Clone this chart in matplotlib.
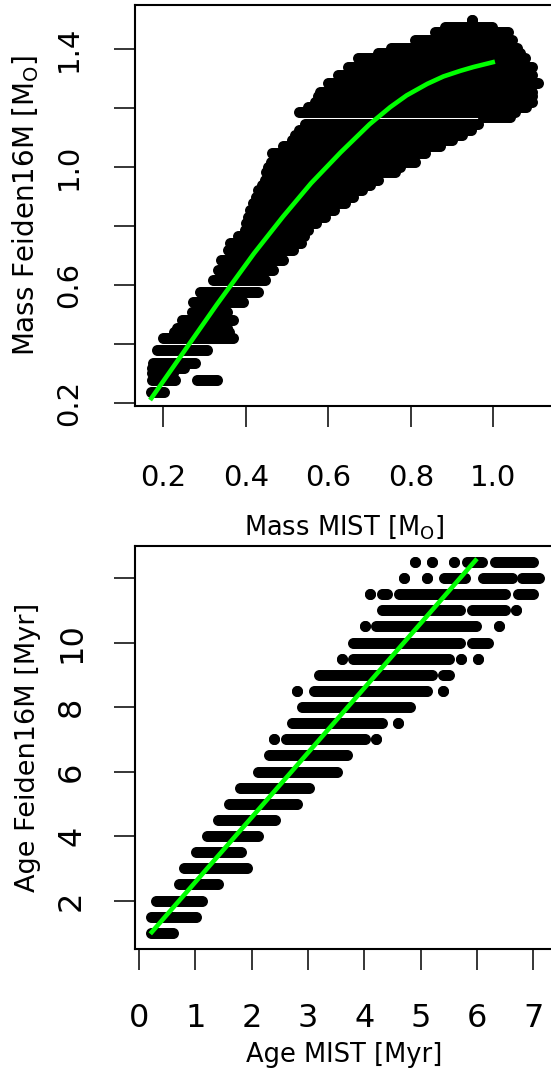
import matplotlib
matplotlib.use("Agg")
import matplotlib.pyplot as plt

plt.rcParams['font.family'] = ['DejaVu Sans']
plt.rcParams['mathtext.fontset'] = 'dejavusans'

# ---------------- data: top panel (mass) ----------------
# each entry: a row of overlapping points at Feiden mass y, from MIST mass x0 to x1
mass_row_y = [0.239, 0.279, 0.279, 0.302, 0.320, 0.338, 0.380, 0.420,
              0.440, 0.454, 0.482, 0.510, 0.544, 0.578, 0.618, 0.651, 0.685,
              0.719, 0.744, 0.765, 0.787, 0.810, 0.832, 0.855, 0.877, 0.900, 0.922,
              0.940, 0.956, 0.984, 1.001, 1.018, 1.047, 1.070, 1.092, 1.110, 1.125,
              1.145, 1.168, 1.187, 1.205, 1.222, 1.240, 1.256, 1.284, 1.312, 1.340,
              1.368, 1.385, 1.402, 1.430, 1.458, 1.475, 1.498]
mass_seg_start = [0.169, 0.172, 0.282, 0.172, 0.172, 0.174, 0.185, 0.200,
                  0.225, 0.234, 0.245, 0.269, 0.273, 0.289, 0.320, 0.333, 0.341,
                  0.358, 0.362, 0.380, 0.398, 0.400, 0.406, 0.410, 0.418, 0.425, 0.430,
                  0.440, 0.446, 0.450, 0.455, 0.460, 0.463, 0.490, 0.511, 0.520, 0.530,
                  0.543, 0.975, 0.530, 0.550, 0.568, 0.575, 0.580, 0.600, 0.624, 0.648,
                  0.672, 0.720, 0.752, 0.810, 0.859, 0.883, 0.948]
mass_seg_end = [0.202, 0.228, 0.331, 0.224, 0.250, 0.277, 0.305, 0.368,
                0.360, 0.354, 0.370, 0.354, 0.394, 0.429, 0.447, 0.467, 0.491,
                0.515, 0.535, 0.540, 0.551, 0.570, 0.592, 0.615, 0.640, 0.660, 0.681,
                0.700, 0.720, 0.762, 0.775, 0.810, 0.835, 0.870, 0.900, 0.923, 0.945,
                0.963, 1.040, 1.053, 1.080, 1.093, 1.095, 1.095, 1.108, 1.095, 1.093,
                1.077, 1.065, 1.057, 1.045, 1.036, 0.996, 0.948]

# smooth relation drawn in green
mass_fit_x = [0.168, 0.25, 0.33, 0.42, 0.49, 0.558, 0.63, 0.70, 0.75, 0.79,
              0.84, 0.879, 0.92, 0.952, 1.004]
mass_fit_y = [0.211, 0.375, 0.535, 0.708, 0.832, 0.945, 1.050, 1.145, 1.203, 1.243,
              1.282, 1.307, 1.326, 1.339, 1.357]

mass_xticks = [0.2, 0.4, 0.6, 0.8, 1.0]
mass_xticklabels = ['0.2', '0.4', '0.6', '0.8', '1.0']
mass_yticks = [0.2, 0.4, 0.6, 0.8, 1.0, 1.2, 1.4]
mass_yticklabels = ['0.2', '', '0.6', '', '1.0', '', '1.4']

# ---------------- data: bottom panel (age) ----------------
age_row_y = [12.5, 12.5, 12.5, 12.5, 12.5,
             12.0, 12.0, 12.0, 12.0, 12.0,
             11.5, 11.5, 11.5, 11.5,
             11.0, 11.0, 11.0,
             10.5, 10.5, 10.5,
             10.0, 10.0,
             9.5, 9.5, 9.5, 9.5,
             9.0, 9.0,
             8.5, 8.5, 8.5,
             8.0,
             7.5, 7.5,
             7.0, 7.0, 7.0,
             6.5, 6.0, 5.5, 5.0, 4.5, 4.0, 3.5, 3.0, 2.5, 2.0, 1.5, 1.0]
age_seg_start = [4.90, 5.21, 5.59, 5.82, 6.32,
                 4.70, 5.11, 5.42, 6.11, 6.80,
                 4.10, 4.31, 4.62, 6.72,
                 4.31, 5.92, 6.70,
                 4.01, 4.20, 6.40,
                 3.80, 5.92,
                 3.61, 3.80, 5.71, 6.01,
                 3.20, 5.40,
                 2.81, 3.11, 5.40,
                 2.90,
                 2.71, 4.60,
                 2.40, 2.61, 4.21,
                 2.31, 2.11, 1.80, 1.60, 1.41, 1.20, 1.01, 0.80, 0.71, 0.30, 0.21, 0.21]
age_seg_end = [4.90, 5.21, 5.59, 6.09, 7.00,
               4.70, 5.11, 5.79, 6.62, 7.10,
               4.10, 4.40, 6.50, 7.00,
               5.70, 6.50, 6.70,
               4.01, 5.99, 6.40,
               5.70, 6.20,
               3.61, 5.50, 5.71, 6.01,
               5.20, 5.50,
               2.81, 5.11, 5.40,
               4.81,
               4.31, 4.60,
               2.40, 4.01, 4.21,
               3.70, 3.51, 3.01, 2.81, 2.41, 2.11, 1.81, 1.91, 1.41, 1.11, 1.01, 0.61]

age_fit_x = [0.2, 6.0]
age_fit_y = [0.97, 12.6]

age_xticks = [0, 1, 2, 3, 4, 5, 6, 7]
age_xticklabels = ['0', '1', '2', '3', '4', '5', '6', '7']
age_yticks = [2, 4, 6, 8, 10, 12]
age_yticklabels = ['2', '4', '6', '8', '10', '']

# ---------------- figure ----------------
W, H = 551, 1075
fig = plt.figure(figsize=(W / 100, H / 100), dpi=100)

def px_axes(left, top, right, bottom):
    return fig.add_axes([left / W, 1 - bottom / H, (right - left) / W, (bottom - top) / H])

ax1 = px_axes(135, 5, 553, 406)
ax2 = px_axes(135, 546, 553, 949)

DOT = 7.9  # point diameter in pt (~11 px)

def draw_rows(ax, ys, x0s, x1s):
    for y, a, b in zip(ys, x0s, x1s):
        ax.plot([a, b], [y, y], color='black', lw=DOT, solid_capstyle='butt',
                marker='o', ms=DOT, mew=0, mfc='black', zorder=2)

draw_rows(ax1, mass_row_y, mass_seg_start, mass_seg_end)
ax1.plot(mass_fit_x, mass_fit_y, color='#00ff00', lw=3.3, zorder=3,
         solid_capstyle='butt', solid_joinstyle='round')

draw_rows(ax2, age_row_y, age_seg_start, age_seg_end)
ax2.plot(age_fit_x, age_fit_y, color='#00ff00', lw=3.3, zorder=3, solid_capstyle='butt')

ax1.set_xlim(0.1314, 1.1447)
ax1.set_ylim(0.1909, 1.549)
ax2.set_xlim(-0.071, 7.35)
ax2.set_ylim(0.5, 12.994)

for ax in (ax1, ax2):
    for s in ax.spines.values():
        s.set_linewidth(1.5)
    ax.tick_params(direction='out', length=15, width=1.1, color='black')

ax1.set_xticks(mass_xticks, mass_xticklabels, fontsize=21)
ax1.set_yticks(mass_yticks, mass_yticklabels, fontsize=21, rotation=90, va='center')
ax1.tick_params(axis='x', pad=27)
ax1.tick_params(axis='y', pad=22.5)

ax2.set_xticks(age_xticks, age_xticklabels, fontsize=23)
ax2.set_yticks(age_yticks, age_yticklabels, fontsize=23, rotation=90, va='center')
ax2.tick_params(axis='x', pad=24)
ax2.tick_params(axis='y', pad=19.5)

ax1.set_xlabel(r'Mass MIST [M$_\mathregular{O}$]', fontsize=18.5)
ax1.set_ylabel(r'Mass Feiden16M [M$_\mathregular{O}$]', fontsize=20)
ax2.set_xlabel('Age MIST [Myr]', fontsize=18.5)
ax2.set_ylabel('Age Feiden16M [Myr]', fontsize=19.5)

ax1.xaxis.set_label_coords(0.5, (406 - 513) / 401)
ax1.yaxis.set_label_coords((41 - 135) / 418, 0.5)
ax2.xaxis.set_label_coords(0.5, (949 - 1042) / 403)
ax2.yaxis.set_label_coords((41 - 135) / 418, 0.5)

fig.savefig('out.png', dpi=100)
